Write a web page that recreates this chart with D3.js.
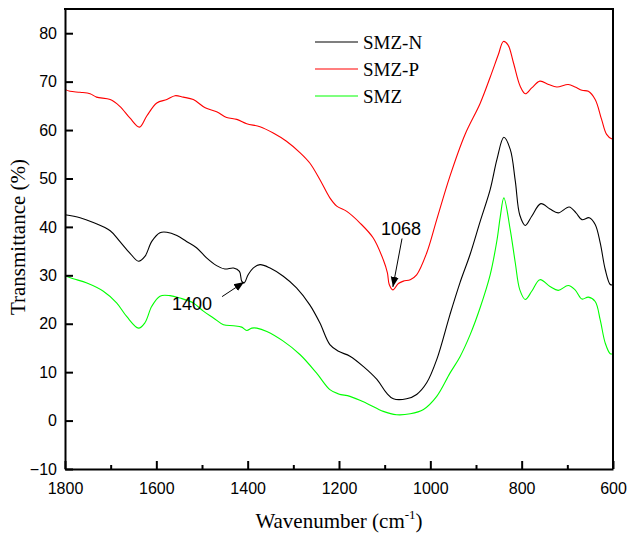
<!DOCTYPE html>
<html><head><meta charset="utf-8">
<script src="https://cdn.jsdelivr.net/npm/d3@7"></script>
<style>body{margin:0;background:#fff}svg{display:block}</style>
</head><body>
<svg id="chart" width="628" height="539"></svg>
<script>
// ---- data: [wavenumber (cm-1), transmittance (%)] ----
const smzN = [[1800,42.5],[1767,41.9],[1738,40.9],[1701,39.2],[1680,37.0],[1658,34.6],[1639,32.9],[1625,33.9],[1610,37.0],[1592,38.8],[1577,38.9],[1555,38.2],[1534,37.0],[1512,35.7],[1490,33.6],[1468,32.0],[1450,31.3],[1431,31.5],[1418,30.8],[1413,28.8],[1408,28.4],[1399,30.1],[1388,31.5],[1373,32.2],[1351,31.5],[1322,29.8],[1293,27.4],[1264,23.9],[1242,20.2],[1220,15.7],[1201,14.3],[1176,13.3],[1147,11.2],[1117,8.5],[1096,5.7],[1081,4.5],[1052,4.5],[1030,5.4],[1008,7.8],[986,12.6],[957,21.9],[935,28.5],[913,34.3],[891,41.1],[869,47.7],[854,54.0],[839,58.5],[825,56.0],[814,49.5],[804,42.4],[792,40.3],[778,42.2],[758,44.8],[738,43.7],[720,42.9],[696,44.1],[681,42.9],[668,41.5],[652,41.9],[639,40.5],[628,36.7],[617,31.2],[606,28.1],[600,28.0]];
const smzP = [[1800,68.4],[1789,68.0],[1767,67.8],[1745,67.5],[1731,66.8],[1701,66.3],[1680,64.9],[1658,62.5],[1637,60.6],[1621,62.9],[1599,65.6],[1577,66.3],[1559,67.1],[1541,66.8],[1519,66.3],[1493,64.6],[1468,63.8],[1446,62.6],[1424,62.2],[1402,61.3],[1373,60.7],[1344,59.4],[1315,57.7],[1285,55.3],[1264,53.2],[1242,49.8],[1220,46.0],[1205,44.3],[1183,43.2],[1154,40.8],[1125,37.7],[1103,33.2],[1094,30.5],[1090,28.1],[1082,27.0],[1070,28.3],[1059,28.8],[1044,29.1],[1030,30.1],[1008,34.6],[986,41.5],[957,50.5],[924,59.1],[891,65.5],[869,70.9],[851,75.6],[840,78.3],[830,77.6],[818,73.9],[803,69.0],[792,67.5],[778,68.7],[760,70.1],[741,69.4],[723,68.9],[698,69.4],[683,68.9],[668,68.2],[654,68.0],[639,66.3],[625,62.2],[614,59.1],[603,58.2],[600,58.2]];
const smz = [[1800,29.9],[1782,29.3],[1752,28.4],[1716,26.7],[1687,24.3],[1665,21.5],[1639,19.1],[1625,20.2],[1610,23.6],[1592,25.7],[1570,25.8],[1548,25.3],[1519,24.3],[1497,22.6],[1475,21.2],[1453,19.8],[1431,19.6],[1413,19.3],[1402,18.6],[1391,19.1],[1380,19.1],[1358,18.4],[1322,16.4],[1285,13.6],[1249,9.8],[1220,6.4],[1201,5.5],[1176,5.0],[1140,3.6],[1103,1.9],[1074,1.2],[1044,1.4],[1015,2.3],[986,5.0],[957,9.8],[935,13.2],[913,17.7],[891,23.3],[869,30.1],[854,37.3],[847,42.0],[839,46.0],[825,39.4],[814,32.6],[804,27.0],[792,25.0],[778,26.7],[760,29.1],[738,27.7],[720,26.9],[698,27.9],[683,27.0],[668,25.1],[654,25.5],[639,24.6],[628,20.8],[617,16.0],[606,13.8],[600,13.8]];
const seriesNames = ["SMZ-N","SMZ-P","SMZ"];
const seriesColors = ["#000000","#ff0000","#00ff00"];
const xTicks = [1800,1600,1400,1200,1000,800,600];
const xMinorTicks = [1700,1500,1300,1100,900,700];
const yTicks = [-10,0,10,20,30,40,50,60,70,80];
// annotations: label, text anchor (wn, value), arrow from, arrow to
const annotations = [
  {label:"1068", text:[1064,38.4], from:[1062,37.6], to:[1082,27.6]},
  {label:"1400", text:[1522,22.9], from:[1456,25.6], to:[1408,28.6]}
];

const svg = d3.select("#chart");
const m = {left:65, top:9, right:15, bottom:70};
const W = 628, H = 539;
const x = d3.scaleLinear().domain([1800,600]).range([m.left, W-m.right]);
const y = d3.scaleLinear().domain([-10,85]).range([H-m.bottom, m.top]);

const sans = "'Liberation Sans', Arial, sans-serif";
const serif = "'Liberation Serif', 'Times New Roman', serif";

// curves
const line = d3.line().x(d=>x(d[0])).y(d=>y(d[1])).curve(d3.curveCatmullRom.alpha(0.5));
[smzN, smzP, smz].forEach((s,i)=>{
  svg.append("path").datum(s).attr("d", line).attr("fill","none")
    .attr("stroke", seriesColors[i]).attr("stroke-width",1.1);
});

// axes
svg.append("g").attr("transform",`translate(0,${y(-10)})`)
  .call(d3.axisBottom(x).tickValues(xTicks).tickFormat(d3.format("d")).tickSize(-8).tickSizeOuter(0).tickPadding(14));
svg.append("g").attr("transform",`translate(0,${y(-10)})`)
  .call(d3.axisBottom(x).tickValues(xMinorTicks).tickFormat("").tickSize(-4).tickSizeOuter(0))
  .select(".domain").remove();
svg.append("g").attr("transform",`translate(${x(1800)},0)`)
  .call(d3.axisLeft(y).tickValues(yTicks).tickSize(-8).tickSizeOuter(0).tickPadding(8));
svg.selectAll(".tick line").attr("stroke","#000").attr("stroke-width",2);
svg.selectAll(".domain").attr("stroke","#000").attr("stroke-width",2);
svg.selectAll(".tick text").attr("font-family",sans).attr("font-size",16).attr("fill","#000");

// frame top/right
svg.append("line").attr("x1",x(1800)-1).attr("x2",x(600)+1).attr("y1",y(85)).attr("y2",y(85)).attr("stroke","#000").attr("stroke-width",2);
svg.append("line").attr("x1",x(600)).attr("x2",x(600)).attr("y1",y(85)).attr("y2",y(-10)).attr("stroke","#000").attr("stroke-width",2);

// axis titles
const xt = svg.append("text").attr("x",(x(1800)+x(600))/2).attr("y",528).attr("text-anchor","middle")
  .attr("font-family",serif).attr("font-size",21).attr("fill","#000");
xt.append("tspan").text("Wavenumber (cm");
xt.append("tspan").attr("dy",-9).attr("font-size",13).text("-1");
xt.append("tspan").attr("dy",9).text(")");
svg.append("text").attr("transform",`translate(25,${(y(85)+y(-10))/2 - 2}) rotate(-90)`)
  .attr("text-anchor","middle").attr("font-family",serif).attr("font-size",21).attr("fill","#000")
  .text("Transmittance (%)");

// legend
const lg = svg.append("g");
seriesNames.forEach((n,i)=>{
  const ly = 42 + i*27;
  lg.append("line").attr("x1",315).attr("x2",358).attr("y1",ly).attr("y2",ly)
    .attr("stroke",seriesColors[i]).attr("stroke-width",1.1);
  lg.append("text").attr("x",363).attr("y",ly+6.5).attr("font-family",serif).attr("font-size",19)
    .attr("fill","#000").text(n);
});

// annotations
svg.append("defs").append("marker").attr("id","ah").attr("viewBox","0 0 10 10").attr("refX",10).attr("refY",5)
  .attr("markerWidth",10).attr("markerHeight",10).attr("markerUnits","userSpaceOnUse").attr("orient","auto")
  .append("path").attr("d","M0,1 L10,5 L0,9 Z").attr("fill","#000");
annotations.forEach(a=>{
  svg.append("line").attr("x1",x(a.from[0])).attr("y1",y(a.from[1])).attr("x2",x(a.to[0])).attr("y2",y(a.to[1]))
    .attr("stroke","#000").attr("stroke-width",1).attr("marker-end","url(#ah)");
  svg.append("text").attr("x",x(a.text[0])).attr("y",y(a.text[1])).attr("text-anchor","middle")
    .attr("font-family",sans).attr("font-size",18).attr("fill","#000").text(a.label);
});
</script>
</body></html>
